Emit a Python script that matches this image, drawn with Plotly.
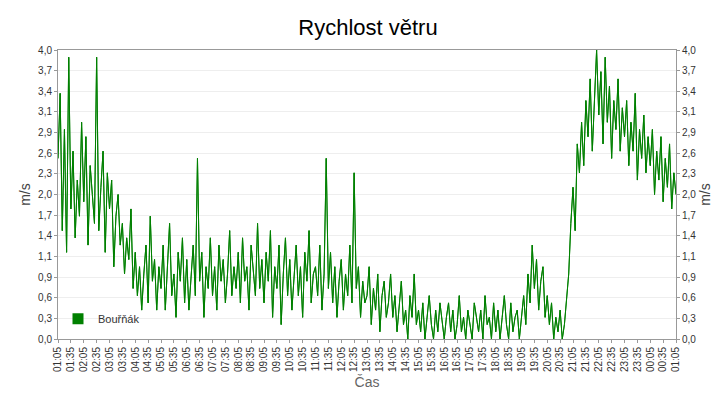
import plotly.graph_objects as go
import pandas as pd

start = "2024-01-01 01:05"
step_minutes = 5
speeds = [
 2.5,3.4,1.5,2.9,1.2,3.9,1.8,2.6,1.4,2.2,1.7,3.0,
 1.9,2.8,1.3,2.4,2.0,1.6,3.9,1.5,2.1,2.6,1.2,2.3,
 1.8,2.2,1.0,1.7,2.0,1.3,1.6,0.9,1.4,1.1,1.8,0.7,
 1.2,0.6,1.0,0.4,0.9,1.3,0.5,1.7,0.8,1.1,0.4,1.0,
 0.7,1.3,0.4,1.0,1.6,0.6,0.9,0.3,1.2,0.8,1.4,0.5,
 1.1,0.4,0.9,1.3,0.6,2.5,0.8,1.2,0.3,1.0,0.7,1.4,
 0.6,1.0,0.4,1.3,0.8,1.1,0.5,0.9,1.5,0.6,1.0,0.7,
 1.2,0.5,1.4,0.8,1.0,0.4,1.3,0.9,0.6,1.6,0.7,1.1,
 0.5,1.2,0.8,1.5,0.3,1.0,0.7,1.3,0.2,0.9,1.4,0.6,
 1.1,0.4,0.9,1.3,0.6,1.0,0.3,1.2,0.8,1.5,0.5,0.9,
 1.0,0.6,1.3,0.4,0.9,2.5,0.7,1.2,0.5,1.0,0.3,0.8,
 1.1,0.4,0.9,0.6,1.3,0.5,2.3,0.7,1.0,0.3,0.8,0.5,
 0.6,1.0,0.2,0.7,0.4,0.9,0.1,0.6,0.8,0.3,0.5,0.9,
 0.3,0.6,0.1,0.5,0.8,0.2,0.4,0.0,0.6,0.3,0.9,0.2,
 0.4,0.1,0.5,0.0,0.3,0.6,0.2,0.0,0.4,0.1,0.5,0.2,
 0.0,0.3,0.5,0.1,0.4,0.0,0.2,0.6,0.1,0.3,0.0,0.4,
 0.2,0.0,0.5,0.3,0.1,0.4,0.0,0.6,0.2,0.3,0.0,0.5,
 0.1,0.4,0.0,0.3,0.6,0.2,0.0,0.5,0.1,0.3,0.4,0.0,
 0.3,0.6,0.2,0.9,0.5,1.3,0.7,1.1,0.4,0.8,1.0,0.3,
 0.6,0.2,0.5,0.0,0.3,0.1,0.4,0.0,0.2,0.5,0.9,1.6,
 2.1,1.5,2.7,2.3,3.0,2.4,3.3,2.8,3.6,2.6,3.4,4.0,
 3.1,3.7,2.7,3.9,3.0,3.5,2.5,3.3,2.9,3.6,2.6,3.2,
 2.8,3.3,2.4,3.0,2.6,3.4,2.2,2.9,2.5,3.1,2.3,2.8,
 2.4,2.9,2.0,2.6,2.2,2.8,1.9,2.5,2.1,2.7,1.8,2.3,
 2.0]
ytick_vals = [i*4/14 for i in range(15)]
ytick_text = [f"{v:.1f}".replace(".", ",") for v in ytick_vals]

times = pd.date_range(start, periods=len(speeds), freq=f"{step_minutes}min")
xtick_vals = list(times[::6])
xtick_text = [t.strftime("%H:%M") for t in xtick_vals]
green = "#008000"
font = "Liberation Sans, Arial, sans-serif"

fig = go.Figure()
fig.add_trace(go.Scatter(x=times, y=speeds, mode="lines", line=dict(color=green, width=1), showlegend=False))
fig.add_trace(go.Scatter(x=times, y=speeds, mode="lines", line=dict(color=green, width=1), showlegend=False, yaxis="y2", hoverinfo="skip"))
fig.add_trace(go.Scatter(x=[None], y=[None], mode="markers", name="Bouřňák",
                         marker=dict(symbol="square", size=11, color=green)))

axis_common = dict(range=[0, 4], tickvals=ytick_vals, ticktext=ytick_text, tickfont=dict(size=10, color="#333"),
                   showline=True, linecolor="#999", ticks="outside", ticklen=3, tickcolor="#999")
fig.update_layout(
    width=720, height=400, margin=dict(l=50, r=52, t=42, b=69, autoexpand=False),
    paper_bgcolor="white", plot_bgcolor="white",
    font=dict(family=font, color="#333"),
    title=dict(text="Rychlost větru", x=0.5, xanchor="center", y=0.97, yanchor="top", font=dict(size=22, color="black")),
    xaxis=dict(type="date", range=[times[0], times[-1]], tickvals=xtick_vals, ticktext=xtick_text,
               tickangle=-90, tickfont=dict(size=10, color="#333"),
               showgrid=False, showline=True, linecolor="#999", mirror=True, ticks="outside", ticklen=3, tickcolor="#999",
               title=dict(text="Čas", font=dict(size=14, color="#666"), standoff=6)),
    yaxis=dict(**axis_common, showgrid=True, gridcolor="#eeeeee",
               title=dict(text="m/s", font=dict(size=14, color="#444"), standoff=4)),
    yaxis2=dict(**axis_common, overlaying="y", side="right", showgrid=False,
                title=dict(text="m/s", font=dict(size=14, color="#444"), standoff=4)),
    legend=dict(x=0.0, y=0.02, xanchor="left", yanchor="bottom", bgcolor="rgba(0,0,0,0)",
                itemwidth=30, font=dict(size=11, color="#333")),
)
fig.write_html("out.html")
